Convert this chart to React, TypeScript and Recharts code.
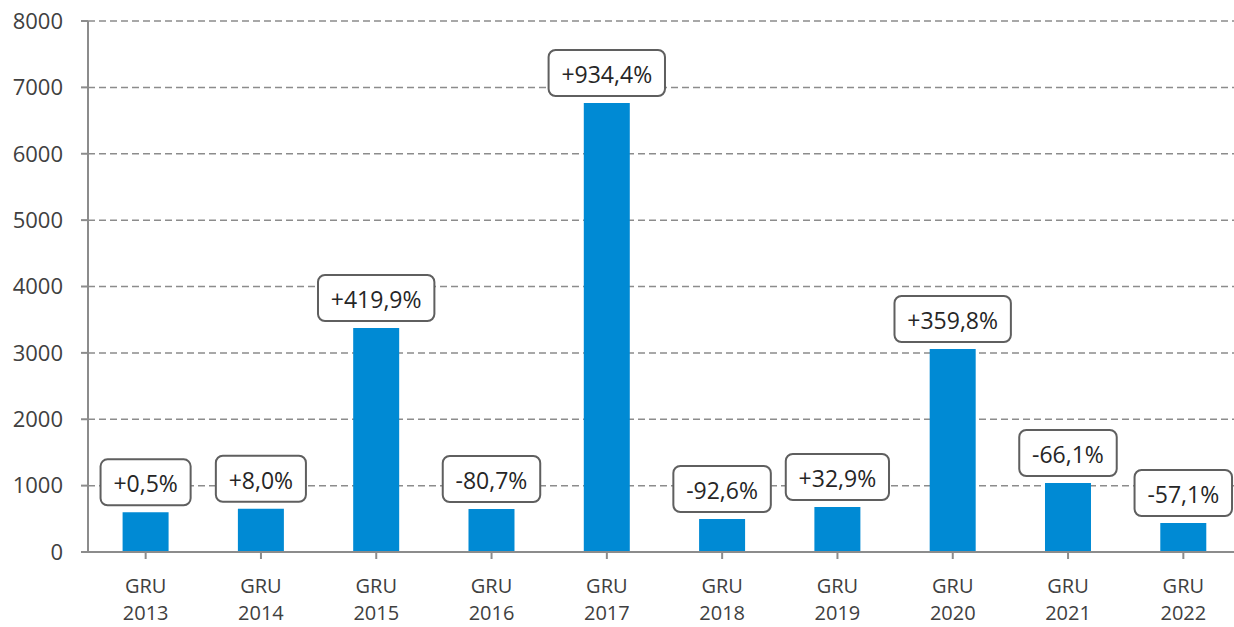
import { BarChart, Bar, XAxis, YAxis, CartesianGrid, LabelList } from 'recharts'

const years = ['2013', '2014', '2015', '2016', '2017', '2018', '2019', '2020', '2021', '2022']
const values = [598, 652, 3375, 648, 6765, 497, 678, 3058, 1040, 437]
const changes = ['+0,5%', '+8,0%', '+419,9%', '-80,7%', '+934,4%', '-92,6%', '+32,9%', '+359,8%', '-66,1%', '-57,1%']
const yTicks = [0, 1000, 2000, 3000, 4000, 5000, 6000, 7000, 8000]

const data = years.map((y, i) => ({ name: y, value: values[i], change: changes[i] }))

const FONT = '"Open Sans", sans-serif'

// rough Open Sans glyph widths (em)
const charW: Record<string, number> = { '+': 0.572, '-': 0.322, ',': 0.25, '%': 0.82 }
const textWidth = (s: string, size: number) =>
  s.split('').reduce((acc, c) => acc + (charW[c] ?? 0.572) * size, 0)

const ChangeLabel = (props: any) => {
  const { x, y, width, index } = props
  const text = changes[index]
  const fs = 23
  const w = textWidth(text, fs) + 26
  const h = 46
  const cx = x + width / 2
  const bottom = y - 7
  return (
    <g>
      <rect x={cx - w / 2} y={bottom - h} width={w} height={h} rx={7} ry={7} fill="#fff" stroke="#5f5f5f" strokeWidth={2} />
      <text x={cx} y={bottom - h / 2 + 1} textAnchor="middle" dominantBaseline="central" fontSize={fs} fontFamily={FONT} fill="#262626">
        {text}
      </text>
    </g>
  )
}

const CategoryTick = (props: any) => {
  const { x, y, payload } = props
  return (
    <g>
      <text x={x} y={y + 32} textAnchor="middle" fontSize={20} fontFamily={FONT} fill="#404040">GRU</text>
      <text x={x} y={y + 59} textAnchor="middle" fontSize={20} fontFamily={FONT} fill="#404040">{payload.value}</text>
    </g>
  )
}

export default function App() {
  return (
    <div style={{ width: 1241, height: 627, background: '#fff' }}>
      <style>{'body{margin:0;overflow:hidden;}'}</style>
      <BarChart
        width={1241}
        height={627}
        data={data}
        margin={{ top: 21, right: 0, left: 0, bottom: 0 }}
        barCategoryGap="30%"
      >
        <CartesianGrid vertical={false} strokeDasharray="7 4" stroke="#8c8c8c" strokeWidth={1.5} />
        <XAxis
          dataKey="name"
          height={75}
          stroke="#8c8c8c"
          strokeWidth={2}
          tickSize={7}
          interval={0}
          tick={<CategoryTick />}
          tickLine={{ stroke: '#8c8c8c', strokeWidth: 2 }}
          scale="band"
        />
        <YAxis
          width={88}
          domain={[0, 8000]}
          ticks={yTicks}
          interval={0}
          stroke="#8c8c8c"
          strokeWidth={2}
          tickSize={7}
          tickMargin={18}
          tick={{ fontSize: 22, fontFamily: FONT, fill: '#404040' }}
          tickLine={{ stroke: '#8c8c8c', strokeWidth: 2 }}
        />
        <Bar dataKey="value" fill="#008ad4" isAnimationActive={false}>
          <LabelList dataKey="change" content={<ChangeLabel />} />
        </Bar>
      </BarChart>
    </div>
  )
}
